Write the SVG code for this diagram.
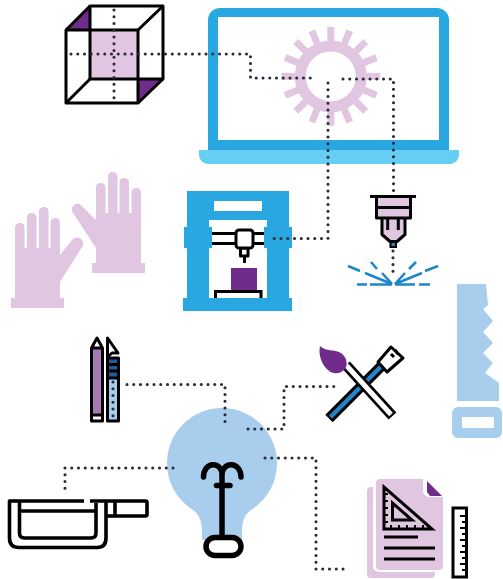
<svg xmlns="http://www.w3.org/2000/svg" xmlns:xlink="http://www.w3.org/1999/xlink" width="503" height="579" viewBox="0 0 503 579">
<style>
.k{fill:none;stroke:#000;stroke-width:3;stroke-linejoin:round}
.kf{fill:#fff;stroke:#000;stroke-width:3;stroke-linejoin:round}
.p{fill:#e0c6e0}
.pu{fill:#6f2c8b}
.b{fill:#29a7e1}
.lb{fill:#a8cded}
.d{fill:none;stroke:#2b2b3a;stroke-width:3.1;stroke-linecap:round;stroke-linejoin:round;stroke-dasharray:0 6.75}
.ray{fill:none;stroke:#1f87c9;stroke-width:2.6}
</style>
<defs>
<rect id="tooth" x="327.3" y="27" width="7" height="14" class="p"/>
</defs>
<rect width="503" height="579" fill="#fff"/>

<g id="laptop">
<path class="b" d="M208 150V20a12 12 0 0 1 12-12H437a12 12 0 0 1 12 12V150Z"/>
<rect x="218" y="17" width="221" height="123" fill="#fff"/>
<path fill="#66cdf3" d="M199 150H459V155a9 9 0 0 1-9 9H208a9 9 0 0 1-9-9Z"/>
</g>
<g id="gear">
<circle cx="330.8" cy="76.4" r="30.5" fill="none" stroke="#e0c6e0" stroke-width="11"/>
<use xlink:href="#tooth"/>
<use xlink:href="#tooth" transform="rotate(22.5 330.8 76.4)"/>
<use xlink:href="#tooth" transform="rotate(45 330.8 76.4)"/>
<use xlink:href="#tooth" transform="rotate(67.5 330.8 76.4)"/>
<use xlink:href="#tooth" transform="rotate(90 330.8 76.4)"/>
<use xlink:href="#tooth" transform="rotate(112.5 330.8 76.4)"/>
<use xlink:href="#tooth" transform="rotate(135 330.8 76.4)"/>
<use xlink:href="#tooth" transform="rotate(157.5 330.8 76.4)"/>
<use xlink:href="#tooth" transform="rotate(180 330.8 76.4)"/>
<use xlink:href="#tooth" transform="rotate(202.5 330.8 76.4)"/>
<use xlink:href="#tooth" transform="rotate(225 330.8 76.4)"/>
<use xlink:href="#tooth" transform="rotate(247.5 330.8 76.4)"/>
<use xlink:href="#tooth" transform="rotate(270 330.8 76.4)"/>
<use xlink:href="#tooth" transform="rotate(292.5 330.8 76.4)"/>
<use xlink:href="#tooth" transform="rotate(315 330.8 76.4)"/>
<use xlink:href="#tooth" transform="rotate(337.5 330.8 76.4)"/>
</g>

<g id="cube">
<rect x="90" y="30" width="48" height="49" class="p"/>
<path class="pu" d="M66 30 90 6V30Z"/>
<path class="pu" d="M138 79H163L138 103Z"/>
<rect x="66" y="30" width="72" height="73" class="k"/>
<rect x="90" y="6" width="73" height="73" class="k"/>
<path class="k" d="M66 30 90 6M138 30 163 6M66 103 90 79M138 103 163 79"/>
</g>

<g id="gloves" class="p">
<path d="M15 298V227a4.800 4.800 0 0 1 9.500 0V248H27V217a4.800 4.800 0 0 1 9.500 0V248H39V211a4.800 4.800 0 0 1 9.500 0V248H50.500V222a4.800 4.800 0 0 1 9.500 0V255L72 240a5.300 5.300 0 0 1 10 7L60 282V298Z"/>
<rect x="11" y="298" width="53" height="10"/>
<path d="M96 263V248L73 213a5.300 5.300 0 0 1 9-7L96 220V187a4.800 4.800 0 0 1 9.500 0V213H108V176a4.800 4.800 0 0 1 9.500 0V213H119.500V182a4.800 4.800 0 0 1 9.500 0V213H131.500V192a4.800 4.800 0 0 1 9.500 0V263Z"/>
<rect x="92" y="263" width="53" height="10"/>
</g>

<g id="printer">
<path class="b" d="M187 191H289V298H292V311H183V298H187Z"/>
<rect x="209" y="220" width="58" height="78" fill="#fff"/>
<rect x="214" y="201" width="48" height="10" fill="#fff"/>
<rect x="231" y="268" width="26" height="23" class="pu"/>
<path d="M215.500 298V291.500H261V298" fill="#fff" stroke="#000" stroke-width="3"/>
<path class="k" d="M212 233.500H264M212 243.500H264"/>
<path class="kf" d="M240.500 248H248V256H240.500Z"/>
<rect x="236" y="230" width="17" height="18" rx="3" class="kf"/>
<path class="k" d="M244.500 256V263"/>
<rect class="b" x="184" y="227" width="28" height="21"/>
<rect class="b" x="264" y="227" width="28" height="21"/>
</g>

<g id="laser">
<path class="p" d="M376 197H411V218H405V235L397 241H390L382 235V218H376Z"/>
<path class="k" d="M370 196.500H416M376.500 197V218H410.500V197M376.500 207.500H410.500M382 218V234.500L390 241.500H397L405 234.500V218M387.700 218V230M398.300 218V230"/>
<rect x="390.500" y="242" width="5.500" height="5" fill="#1f87c9" stroke="#000" stroke-width="2"/>
<path class="ray" d="M357 284.500H367M370 284.500H392M395 284.500H415M419 284.500H430M348 266 360 271M365 273 392 284M371 262 377 269M382 273 392 284M438 266 425 271M422 273 395 284M416 262 409 269M405 273 395 284"/>
</g>

<g id="tools">
<rect x="91.500" y="348" width="11" height="73" fill="#a87ab5"/>
<rect x="92" y="415" width="10" height="5" fill="#fff"/>
<path class="k" d="M91.500 348H102.500V421H91.500ZM91.500 348 97 338 102.500 348M91.500 415H102.500"/>
<path class="kf" d="M107.500 338 118 353H112L107.500 357Z"/>
<rect x="107.500" y="358" width="11" height="20" fill="#1a5f99"/>
<rect x="107.500" y="378" width="11" height="43" class="lb"/>
<path class="k" d="M107.500 338V421H118.500V358H107.500M107.500 364.500H118.500M107.500 371H118.500M107.500 378H120"/>
</g>

<g id="brushes">
<path d="M329 418.500 382 365.500" stroke="#000" stroke-width="10.500"/>
<path d="M330.500 417 382 365.500" stroke="#1f87c9" stroke-width="4.500"/>
<path class="kf" d="M378 362 391 347 403 358 387 372Z"/>
<path class="k" d="M391 354 394 357M395 350 398 354"/>
<path d="M346 365 392.500 416" stroke="#000" stroke-width="10.500"/>
<path d="M346 365 391 414.500" stroke="#fff" stroke-width="5"/>
<path class="pu" d="M320 346C326 352 334 349 341 353 347 357 348 365 345 369 341 374 333 375 328 370 322 365 318 355 320 346Z"/>
</g>

<g id="saw" class="lb">
<path d="M457 284H486L488 305 483 309 493 321 483 332 493 343 483 353 493 363 485 373 499 383V401H457Z"/>
<path fill-rule="evenodd" d="M458 407H496a6 6 0 0 1 6 6V432a6 6 0 0 1-6 6H458a6 6 0 0 1-6-6V413a6 6 0 0 1 6-6ZM462 417V428H494V417Z"/>
</g>

<g id="bulb">
<path class="lb" d="M222 408A55 55 0 0 1 277 463C277 482 268 499 251 510 244 515 242 522 242 533V540H202V533C202 522 200 515 193 510 176 499 167 482 167 463A55 55 0 0 1 222 408Z"/>
<path d="M203.500 477C203.500 461 222 461 222 475M241 477C241 461 222 461 222 475M222 475V537M216.500 485.500H230" fill="none" stroke="#000" stroke-width="5.500" stroke-linecap="round"/>
<rect x="206" y="537.500" width="35" height="18" rx="9" fill="#fff" stroke="#000" stroke-width="5.500"/>
</g>

<g id="micrometer">
<path d="M84 501H9.500V538Q9.500 547.500 19 547.500H97Q106 547.500 106 538V501M90 501H145.500Q147 501 147 502.500V514.500Q147 516 145.500 516H106M115 501V516M19.500 501V533Q19.500 538 24.500 538H91Q96 538 96 533V503M19.500 511H96" fill="none" stroke="#000" stroke-width="3.600" stroke-linejoin="round"/>
</g>

<g id="document">
<path class="p" d="M367 491a4 4 0 0 1 4-4H373V566Q373 572 380 572H435V574a4 4 0 0 1-4 4H371a4 4 0 0 1-4-4Z"/>
<path class="p" d="M380 479H423V490Q423 497 430 497H443V566a4 4 0 0 1-4 4H380a4 4 0 0 1-4-4V483a4 4 0 0 1 4-4Z"/>
<path class="pu" d="M427 481 442 496H430L427 492Z"/>
<path d="M384 487V529H432ZM392.500 503V520H412Z" fill="none" stroke="#000" stroke-width="3"/>
<path d="M384 494H388M384 501H388M384 508H388M384 515H388M384 522H388M391 529V525M399 529V525M407 529V525M415 529V525M423 529V525" stroke="#000" stroke-width="2" fill="none"/>
<path d="M384 537H418M384 548H435M384 559H435" stroke="#000" stroke-width="3" fill="none"/>
<rect x="453" y="508" width="13.500" height="69" fill="#fff" stroke="#000" stroke-width="3"/>
<path d="M460 516H466M462 522H466M460 528H466M462 534H466M460 540H466M462 546H466M460 552H466M462 558H466M460 564H466M462 570H466" stroke="#000" stroke-width="2" fill="none"/>
</g>

<g id="connectors">
<path class="d" d="M114 10V100"/>
<path class="d" d="M71 54H250.500V78H315"/>
<path class="d" d="M343 79H393.500V192"/>
<path class="d" d="M328 83V238.500H272"/>
<path class="d" d="M393 251V278"/>
<path class="d" d="M127 384.500H225V425"/>
<path class="d" d="M113 382V418"/>
<path class="d" d="M173 468H65V491"/>
<path class="d" d="M248 429H284V386.500H336"/>
<path class="d" d="M265 458H316V569H345"/>
</g>
</svg>
